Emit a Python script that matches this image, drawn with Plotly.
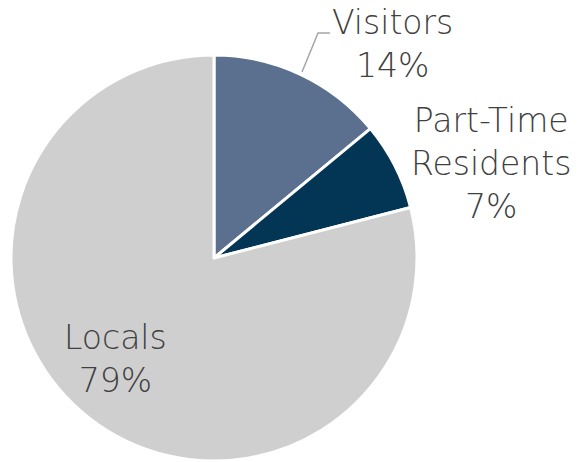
import plotly.graph_objects as go

labels = ["Visitors", "Part-Time<br>Residents", "Locals"]
values = [14, 7, 79]
colors = ["#5b6f8e", "#033554", "#d0cfd0"]

W, H = 585, 462
OFF = 8  # page body margin
cx, cy, r = 214 - OFF, 258 - OFF, 203

fig = go.Figure(go.Pie(
    labels=labels, values=values, sort=False, direction="clockwise", rotation=0,
    marker=dict(colors=colors, line=dict(color="white", width=3)),
    textinfo="none", hoverinfo="label+percent",
    domain=dict(x=[(cx - r) / W, (cx + r) / W], y=[1 - (cy + r) / H, 1 - (cy - r) / H]),
    showlegend=False,
))

pos = [(392, 44), (491, 163), (115, 359)]
total = sum(values)
for lab, v, (px, py) in zip(labels, values, pos):
    fig.add_annotation(
        x=(px - OFF) / W, y=1 - (py - OFF) / H, xref="paper", yref="paper",
        text=f"{lab}<br>{round(v / total * 100)}%", showarrow=False,
        xanchor="center", yanchor="middle", align="center", borderpad=0,
        font=dict(family="DejaVu Sans", size=33, color="#404040", weight=200),
    )

pts = [(302, 72), (318, 33), (330, 33)]
path = "M " + " L ".join(f"{(x - OFF) / W},{1 - (y - OFF) / H}" for x, y in pts)
fig.add_shape(type="path", path=path, xref="paper", yref="paper",
              line=dict(color="#a6a6a6", width=1.5))

fig.update_layout(width=W, height=H, margin=dict(l=0, r=0, t=0, b=0),
                  paper_bgcolor="white", plot_bgcolor="white")
fig.write_html("out.html")
